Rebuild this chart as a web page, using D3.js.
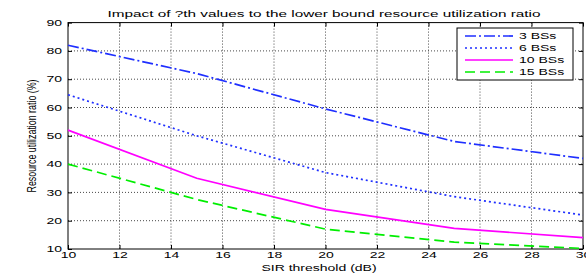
<!DOCTYPE html>
<html>
<head>
<meta charset="utf-8">
<script src="https://cdn.jsdelivr.net/npm/d3@7"></script>
<style>
  body { margin: 0; background: #fff; }
  text { font-family: "Liberation Sans", Arial, sans-serif; fill: #000; }
</style>
</head>
<body>
<svg id="chart" width="586" height="275"></svg>
<script>
(function() {

  // data
  var sirThresholds = [10, 15, 20, 25, 30];
  var bs3 = [82, 72, 59.5, 48, 42];
  var bs6 = [64.5, 50, 37, 28.5, 22];
  var bs10 = [52, 35, 24, 17.3, 14];
  var bs15 = [40, 27.5, 17, 12.4, 10.2];
  var seriesNames = ["3 BSs", "6 BSs", "10 BSs", "15 BSs"];
  var xTicks = [10, 12, 14, 16, 18, 20, 22, 24, 26, 28, 30];
  var yTicks = [10, 20, 30, 40, 50, 60, 70, 80, 90];

  var left = 68, right = 583, top = 22.6, bottom = 249;
  var sx = 1.65; // the picture is wide, so text is stretched sideways
  var fs = 8.5;

  var svg = d3.select("#chart");

  var x = d3.scaleLinear().domain([10, 30]).range([left, right]);
  var y = d3.scaleLinear().domain([10, 90]).range([bottom, top]);

  var styles = [
    { color: "#1f2fff", dash: "11,3,2,3" },
    { color: "#1f2fff", dash: "2,3" },
    { color: "#ff00ff", dash: null },
    { color: "#00ee00", dash: "10,5" }
  ];
  var series = [bs3, bs6, bs10, bs15];

  // grid
  svg.append("g").selectAll("line")
    .data(xTicks.slice(1, -1))
    .enter().append("line")
    .attr("x1", d => x(d)).attr("x2", d => x(d))
    .attr("y1", top).attr("y2", bottom)
    .attr("stroke", "#333").attr("stroke-width", 0.9)
    .attr("stroke-dasharray", "1,2");
  svg.append("g").selectAll("line")
    .data(yTicks.slice(1, -1))
    .enter().append("line")
    .attr("x1", left).attr("x2", right)
    .attr("y1", d => y(d)).attr("y2", d => y(d))
    .attr("stroke", "#333").attr("stroke-width", 0.9)
    .attr("stroke-dasharray", "1,2");

  // axes, ticks pointing in
  var xAxis = svg.append("g")
    .attr("transform", "translate(0," + bottom + ")")
    .call(d3.axisBottom(x).tickValues(xTicks).tickSizeInner(-4).tickSizeOuter(0).tickPadding(3));
  svg.append("g")
    .attr("transform", "translate(0," + top + ")")
    .call(d3.axisTop(x).tickValues(xTicks).tickSizeInner(-4).tickSizeOuter(0).tickFormat(""));
  var yAxis = svg.append("g")
    .attr("transform", "translate(" + left + ",0)")
    .call(d3.axisLeft(y).tickValues(yTicks).tickSizeInner(-4).tickSizeOuter(0).tickPadding(6));
  svg.append("g")
    .attr("transform", "translate(" + right + ",0)")
    .call(d3.axisRight(y).tickValues(yTicks).tickSizeInner(-4).tickSizeOuter(0).tickFormat(""));

  svg.selectAll(".domain").remove();
  svg.selectAll(".tick line").attr("stroke", "#000");

  xAxis.selectAll("text")
    .attr("font-size", fs)
    .attr("font-family", null)
    .attr("transform", "scale(" + sx + ",1)");
  yAxis.selectAll("text")
    .attr("font-size", fs)
    .attr("font-family", null)
    .attr("x", -6 / sx)
    .attr("transform", "scale(" + sx + ",1)");

  // frame
  svg.append("rect")
    .attr("x", left).attr("y", top)
    .attr("width", right - left).attr("height", bottom - top)
    .attr("fill", "none").attr("stroke", "#000").attr("stroke-width", 1);

  // lines
  var line = d3.line()
    .x((d, i) => x(sirThresholds[i]))
    .y(d => y(d));

  svg.append("g").selectAll("path")
    .data(series)
    .enter().append("path")
    .attr("d", line)
    .attr("fill", "none")
    .attr("stroke", (d, i) => styles[i].color)
    .attr("stroke-width", 1.7)
    .attr("stroke-dasharray", (d, i) => styles[i].dash);

  // title and labels
  svg.append("text")
    .attr("transform", "translate(324,17) scale(" + sx + ",1)")
    .attr("text-anchor", "middle")
    .attr("font-size", fs)
    .attr("textLength", 433 / sx)
    .attr("lengthAdjust", "spacingAndGlyphs")
    .text("Impact of ?th values to the lower bound resource utilization ratio");

  svg.append("text")
    .attr("transform", "translate(319,271) scale(" + sx + ",1)")
    .attr("text-anchor", "middle")
    .attr("font-size", fs)
    .text("SIR threshold (dB)");

  svg.append("text")
    .attr("transform", "translate(36,136) rotate(-90)")
    .attr("text-anchor", "middle")
    .attr("font-size", 12.5)
    .attr("textLength", 113)
    .attr("lengthAdjust", "spacingAndGlyphs")
    .text("Resource utilization ratio (%)");

  // legend
  var legend = svg.append("g");
  legend.append("rect")
    .attr("x", 457).attr("y", 28)
    .attr("width", 116).attr("height", 52)
    .attr("fill", "#fff").attr("stroke", "#000").attr("stroke-width", 1);

  var rowY = d3.scalePoint().domain(seriesNames).range([36, 72]);

  var rows = legend.selectAll(".row")
    .data(seriesNames)
    .enter().append("g")
    .attr("transform", d => "translate(0," + rowY(d) + ")");
  rows.append("line")
    .attr("x1", 465).attr("x2", 513)
    .attr("stroke", (d, i) => styles[i].color)
    .attr("stroke-width", 1.7)
    .attr("stroke-dasharray", (d, i) => styles[i].dash);
  rows.append("text")
    .attr("transform", "translate(519,3) scale(" + sx + ",1)")
    .attr("font-size", fs)
    .text(d => d);

})()
</script>
</body>
</html>
